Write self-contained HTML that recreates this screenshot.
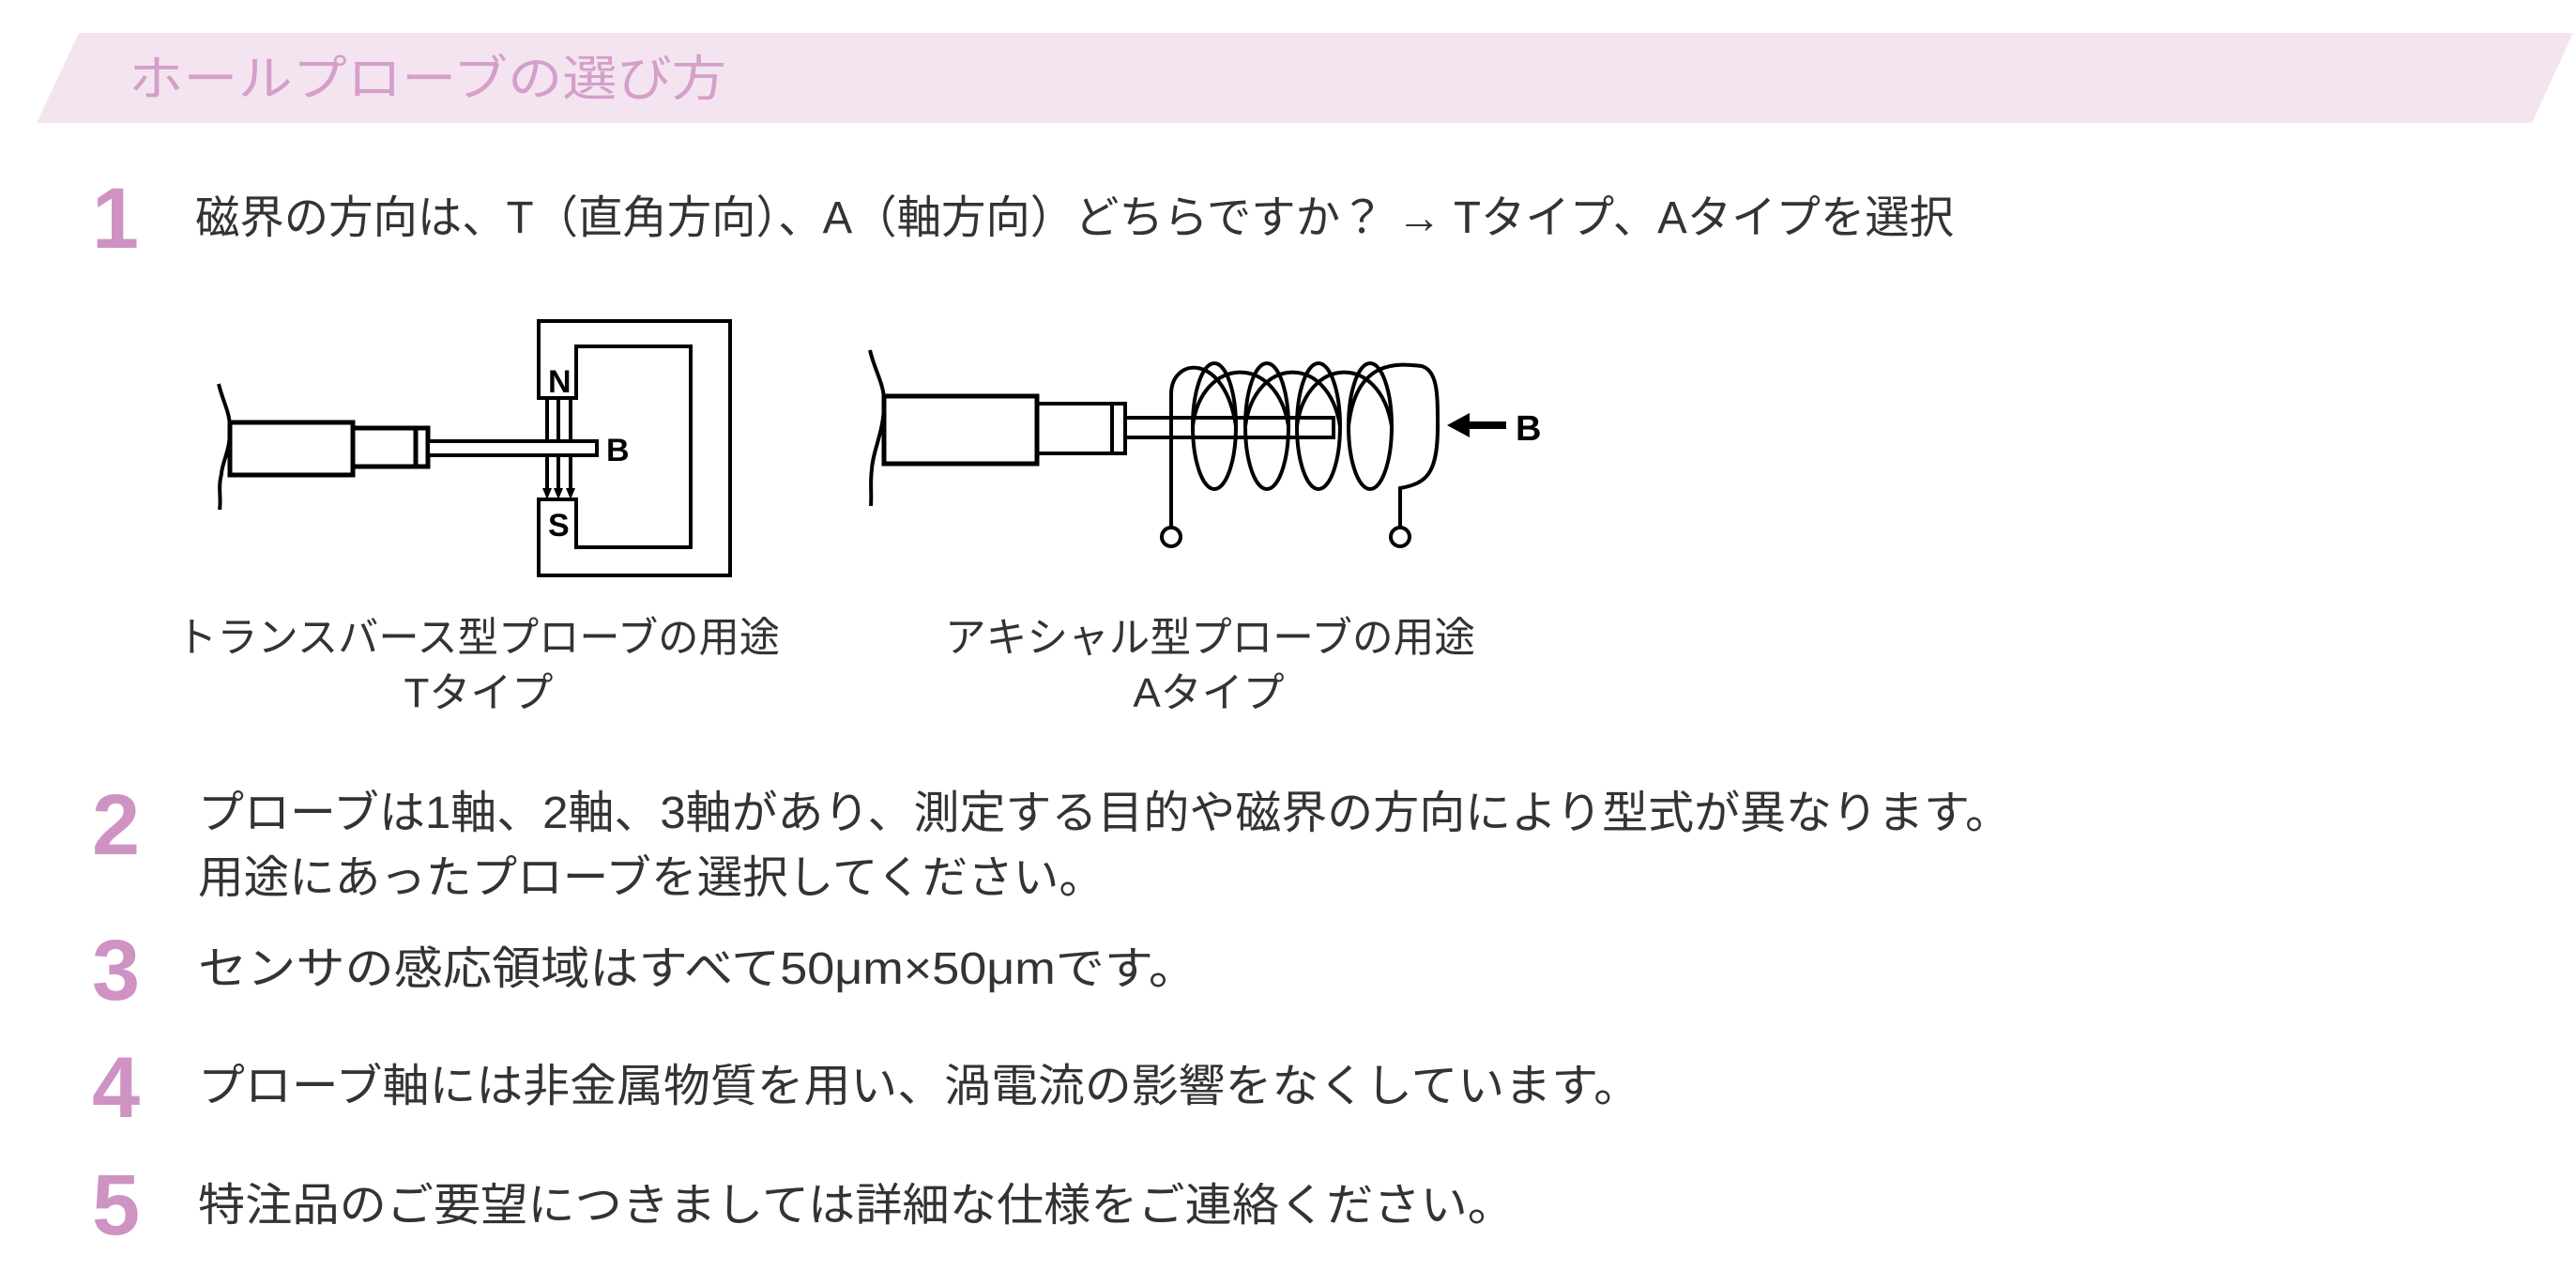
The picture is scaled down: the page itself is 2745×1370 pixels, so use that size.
<!DOCTYPE html>
<html><head><meta charset="utf-8"><style>
html,body{margin:0;padding:0;background:#fff;}
svg{display:block;}
.t{font-family:"Liberation Sans","Noto Sans CJK JP",sans-serif;fill:#333;font-size:48px;}
.n{font-family:"Liberation Sans",sans-serif;font-weight:bold;fill:#cf93c3;font-size:92px;}
.b{font-family:"Liberation Sans",sans-serif;font-weight:bold;fill:#000;}
</style></head><body>
<svg width="2745" height="1370" viewBox="0 0 2745 1370" xmlns="http://www.w3.org/2000/svg">
<polygon points="84,35 2742,35 2698,131 39,131" fill="#f4e4ef"/>
<text class="t" x="137" y="102" textLength="637" lengthAdjust="spacingAndGlyphs" style="fill:#d49fca;font-size:52px">ホールプローブの選び方</text>

<text class="n" x="98" y="264" textLength="50" lengthAdjust="spacingAndGlyphs">1</text>
<text class="t" x="208" y="248" textLength="1874" lengthAdjust="spacingAndGlyphs">磁界の方向は、T（直角方向）、A（軸方向）どちらですか？ → Tタイプ、Aタイプを選択</text>

<g fill="none" stroke="#000" stroke-width="5">
<path d="M233,409 C238,430 246,440 245,460 C245,480 236,495 236,505 C232,520 236,530 234,543" stroke-width="4"/>
<rect x="245" y="450" width="131" height="56"/>
<rect x="376" y="456" width="80" height="41"/>
<line x1="443" y1="456" x2="443" y2="497"/>
<rect x="456" y="470" width="180" height="15" stroke-width="4"/>
<path d="M574,424 V342 H778 V613 H574 V532 H614 V583 H736 V369 H614 V424 Z" stroke-width="4"/>
</g>
<g stroke="#000" stroke-width="4">
<line x1="583" y1="424" x2="583" y2="522"/>
<line x1="595" y1="424" x2="595" y2="522"/>
<line x1="608" y1="424" x2="608" y2="522"/>
</g>
<g fill="#000">
<polygon points="578,520 588,520 583,532"/>
<polygon points="590,520 600,520 595,532"/>
<polygon points="603,520 613,520 608,532"/>
</g>
<rect x="456" y="470" width="180" height="15" fill="#fff" stroke="#000" stroke-width="4"/>
<text class="b" x="584" y="418" font-size="34">N</text>
<text class="b" x="584" y="571" font-size="34">S</text>
<text class="b" x="646" y="491" font-size="34">B</text>

<g fill="none" stroke="#000" stroke-width="4">
<path d="M927,373 C932,395 943,410 942,430 C942,460 930,480 929,500 C927,515 929,525 928,539"/>
<rect x="942" y="422" width="163" height="72" stroke-width="5"/>
<rect x="1105" y="430" width="94" height="53"/>
<line x1="1185" y1="430" x2="1185" y2="483"/>
<rect x="1199" y="445" width="222" height="21"/>
<ellipse cx="1294" cy="454" rx="23" ry="67"/>
<ellipse cx="1350" cy="454" rx="23" ry="67"/>
<ellipse cx="1405" cy="454" rx="23" ry="67"/>
<ellipse cx="1460" cy="454" rx="23" ry="67"/>
<path d="M1248,562 V420 C1248,380 1305,375 1317,454"/>
<path d="M1271,454 C1280,380 1360,375 1373,454"/>
<path d="M1327,454 C1337,380 1415,375 1428,454"/>
<path d="M1382,454 C1392,380 1470,375 1483,454"/>
<path d="M1437,454 C1445,382 1490,387 1515,390 C1532,395 1532,420 1532,454 C1532,505 1520,515 1492,520 V562"/>
<circle cx="1248" cy="572" r="10"/>
<circle cx="1492" cy="572" r="10"/>
</g>
<line x1="1560" y1="453" x2="1605" y2="453" stroke="#000" stroke-width="8"/>
<polygon points="1542,453 1566,440 1566,466" fill="#000"/>
<text class="b" x="1615" y="469" font-size="38">B</text>

<text class="t" x="188" y="694" textLength="643" lengthAdjust="spacingAndGlyphs" style="font-size:44px">トランスバース型プローブの用途</text>
<text class="t" x="510" y="753" text-anchor="middle" style="font-size:44px">Tタイプ</text>
<text class="t" x="1007" y="694" textLength="565" lengthAdjust="spacingAndGlyphs" style="font-size:44px">アキシャル型プローブの用途</text>
<text class="t" x="1288" y="753" text-anchor="middle" style="font-size:44px">Aタイプ</text>

<text class="n" x="98" y="910">2</text>
<text class="t" x="211" y="882" textLength="1932" lengthAdjust="spacingAndGlyphs">プローブは1軸、2軸、3軸があり、測定する目的や磁界の方向により型式が異なります。</text>
<text class="t" x="211" y="951" textLength="966" lengthAdjust="spacingAndGlyphs">用途にあったプローブを選択してください。</text>

<text class="n" x="98" y="1065">3</text>
<text class="t" x="211" y="1048" textLength="1065" lengthAdjust="spacingAndGlyphs">センサの感応領域はすべて50μm×50μmです。</text>

<text class="n" x="98" y="1190">4</text>
<text class="t" x="211" y="1173" textLength="1537" lengthAdjust="spacingAndGlyphs">プローブ軸には非金属物質を用い、渦電流の影響をなくしています。</text>

<text class="n" x="98" y="1315">5</text>
<text class="t" x="211" y="1300" textLength="1403" lengthAdjust="spacingAndGlyphs">特注品のご要望につきましては詳細な仕様をご連絡ください。</text>
</svg>
</body></html>
